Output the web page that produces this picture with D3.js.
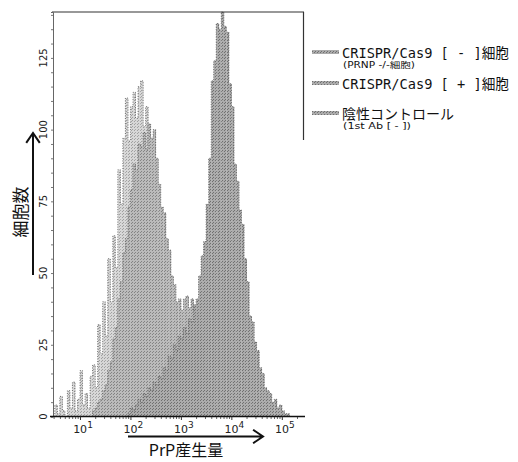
<!DOCTYPE html>
<html>
<head>
<meta charset="utf-8">
<script src="https://cdn.jsdelivr.net/npm/d3@7"></script>
<style>
  html, body { margin: 0; padding: 0; background: #fff; }
  svg { display: block; }
</style>
</head>
<body>
<svg id="chart" width="518" height="462"></svg>
<script>
// Histogram bins in log10(PrP) units: bin k covers binStart + k*binStep .. +binStep
const binStart = 0.5;
const binStep = 0.05;

// negative control (1st Ab [-]) - first bin index + counts
const negFirstBin = 0;
const negCounts = [4, 1, 7, 2, 0, 9, 3, 12, 2, 6, 16, 4, 8, 3, 14,
  18, 10, 32, 22, 40, 28, 55, 40, 63, 52, 86, 74, 97, 111, 96, 108, 113, 104, 115, 117,
  101, 108, 90, 86, 70, 60, 47, 40, 29, 24, 17, 13, 10, 7, 5, 4, 3, 2, 2, 1, 1];

// CRISPR/Cas9 [-] (PRNP -/-)
const minusFirstBin = 15;
const minusCounts = [2, 3, 5, 6, 9, 11, 16, 19, 27, 31, 41, 47, 57, 62, 73, 79, 88, 86, 95, 94,
  99, 93, 102, 97, 100, 90, 81, 73, 71, 62, 58, 49, 46, 40, 41, 37, 41, 42, 38, 41,
  37, 36, 29, 25, 17, 13, 8, 5, 3, 2, 1];

// CRISPR/Cas9 [+]
const plusFirstBin = 29;
const plusCounts = [1, 3, 2, 4, 6, 5, 8, 7, 10, 9, 12, 11, 14, 13, 17, 16, 21, 20, 25, 23,
  28, 27, 31, 29, 34, 33, 39, 41, 49, 56, 61, 74, 90, 117, 124, 137, 135, 141, 136, 134,
  116, 108, 88, 82, 72, 67, 55, 47, 35, 33, 26, 23, 17, 15, 10, 9, 8, 5, 6, 3, 4, 2, 1, 1];

const yTicks = [0, 25, 50, 75, 100, 125];
const xDecades = [1, 2, 3, 4, 5];
const legendMain = ['CRISPR/Cas9 [ - ]細胞', 'CRISPR/Cas9 [ + ]細胞', '陰性コントロール'];
const legendSub = ['(PRNP -/-細胞)', '', '(1st Ab [ - ])'];

const svg = d3.select('#chart');
const defs = svg.append('defs');

const x = d3.scaleLog().domain([Math.pow(10, 0.465), Math.pow(10, 5.42)]).range([53, 303]);
const y = d3.scaleLinear().domain([0, 141]).range([416.5, 12]);

// speckled fills, like the halftone in the scan
function addPattern(id, base, dot) {
  const p = defs.append('pattern').attr('id', id)
    .attr('patternUnits', 'userSpaceOnUse').attr('width', 3).attr('height', 3);
  p.append('rect').attr('width', 3).attr('height', 3).attr('fill', base);
  p.append('rect').attr('x', 0).attr('y', 0).attr('width', 1).attr('height', 1).attr('fill', dot);
  p.append('rect').attr('x', 2).attr('y', 1).attr('width', 1).attr('height', 1).attr('fill', dot);
}
addPattern('pNeg', '#d6d6d6', '#a0a0a0');
addPattern('pMinus', '#bababa', '#838383');
addPattern('pPlus', '#ababab', '#707070');

const series = [
  { first: negFirstBin, counts: negCounts, fill: 'url(#pNeg)' },
  { first: minusFirstBin, counts: minusCounts, fill: 'url(#pMinus)' },
  { first: plusFirstBin, counts: plusCounts, fill: 'url(#pPlus)' }
];

const edge = k => Math.pow(10, binStart + k * binStep);

series.forEach(s => {
  const bins = s.counts.map((c, i) => ({ k: s.first + i, c }));
  const g = svg.append('g');
  g.selectAll('rect').data(bins).join('rect')
    .attr('x', d => x(edge(d.k)))
    .attr('width', d => x(edge(d.k + 1)) - x(edge(d.k)) + 0.3)
    .attr('y', d => y(d.c))
    .attr('height', d => y(0) - y(d.c))
    .attr('fill', s.fill);
  // dotted outline along the tops
  const pts = bins.map(d => [x(edge(d.k)), y(d.c)]);
  const last = bins[bins.length - 1];
  pts.unshift([x(edge(bins[0].k)), y(0)]);
  pts.push([x(edge(last.k + 1)), y(last.c)], [x(edge(last.k + 1)), y(0)]);
  g.append('path')
    .attr('d', d3.line().curve(d3.curveStepAfter)(pts))
    .attr('fill', 'none').attr('stroke', '#555').attr('stroke-width', 0.8)
    .attr('stroke-dasharray', '1 1.5');
});

// frame: top and partial right side
svg.append('line').attr('x1', 52).attr('x2', 304).attr('y1', 12).attr('y2', 12)
  .attr('stroke', '#333').attr('stroke-width', 1.2);
svg.append('line').attr('x1', 303.5).attr('x2', 303.5).attr('y1', 12).attr('y2', 140)
  .attr('stroke', '#333').attr('stroke-width', 1.2);

// y axis
const yMinor = d3.range(0, 141, 5);
const yAxis = svg.append('g').attr('transform', 'translate(53,0)')
  .call(d3.axisLeft(y).tickValues(yMinor).tickSize(2).tickFormat(''));
yAxis.select('.domain').attr('stroke', '#666');
yAxis.selectAll('.tick line').attr('stroke', '#777');
svg.append('g').selectAll('text').data(yTicks).join('text')
  .attr('transform', d => `translate(47,${y(d)}) rotate(-90)`)
  .attr('text-anchor', 'middle')
  .attr('font-family', 'DejaVu Sans, sans-serif').attr('font-size', 10)
  .attr('fill', '#222')
  .text(d => d);

// x axis
const xMinor = [];
xDecades.concat([0]).forEach(e => { for (let m = 2; m <= 9; m++) xMinor.push(m * Math.pow(10, e)); });
const xAxisMinor = svg.append('g').attr('transform', 'translate(0,416.5)')
  .call(d3.axisBottom(x).tickValues(xMinor.filter(v => v > x.domain()[0] && v < x.domain()[1]))
    .tickSize(2.5).tickFormat(''));
xAxisMinor.select('.domain').remove();
xAxisMinor.selectAll('.tick line').attr('stroke', '#666');
const xAxis = svg.append('g').attr('transform', 'translate(0,416.5)')
  .call(d3.axisBottom(x).tickValues(xDecades.map(e => Math.pow(10, e))).tickSize(3.5).tickFormat(''));
xAxis.select('.domain').attr('stroke', '#111').attr('stroke-width', 1.6).attr('d', 'M50,0H305');
xAxis.selectAll('.tick line').attr('stroke', '#333');

const xl = svg.append('g').selectAll('text').data(xDecades).join('text')
  .attr('x', d => x(Math.pow(10, d)) + 3)
  .attr('y', 433)
  .attr('text-anchor', 'middle')
  .attr('font-family', 'DejaVu Sans, sans-serif').attr('font-size', 11)
  .attr('fill', '#222');
xl.append('tspan').text('10');
xl.append('tspan').attr('dy', -5).attr('font-size', 9).text(d => d);

// arrows for axis titles
function arrow(x1, y1, x2, y2) {
  const a = Math.atan2(y2 - y1, x2 - x1);
  const L = 12, spread = 0.6;
  const p1 = [x2 - L * Math.cos(a - spread), y2 - L * Math.sin(a - spread)];
  const p2 = [x2 - L * Math.cos(a + spread), y2 - L * Math.sin(a + spread)];
  svg.append('path')
    .attr('d', `M${x1},${y1}L${x2},${y2}M${p1[0]},${p1[1]}L${x2},${y2}L${p2[0]},${p2[1]}`)
    .attr('fill', 'none').attr('stroke', '#111').attr('stroke-width', 2);
}
arrow(128, 436.5, 263, 436.5);
arrow(33, 275, 33, 133);

svg.append('text')
  .attr('x', 186).attr('y', 456)
  .attr('text-anchor', 'middle')
  .attr('font-family', 'Noto Sans CJK JP, sans-serif').attr('font-size', 16)
  .attr('fill', '#111')
  .text('PrP産生量');

svg.append('text')
  .attr('transform', 'translate(27,212) rotate(-90)')
  .attr('text-anchor', 'middle')
  .attr('font-family', 'Noto Sans CJK JP, sans-serif').attr('font-size', 17)
  .attr('fill', '#111')
  .text('細胞数');

// legend
const legendY = [58, 89, 119];
const legendW = [167, 167, 112];
const legendSubW = [72, 0, 68];
const lg = svg.append('g');
legendMain.forEach((t, i) => {
  lg.append('rect').attr('x', 312).attr('y', legendY[i] - 8).attr('width', 27).attr('height', 4)
    .attr('fill', 'url(#pPlus)');
  lg.append('text').attr('x', 342).attr('y', legendY[i])
    .attr('font-family', 'DejaVu Sans Mono, Noto Sans CJK JP, monospace').attr('font-size', 14)
    .attr('textLength', legendW[i]).attr('lengthAdjust', 'spacingAndGlyphs')
    .attr('fill', '#111').text(t);
  if (legendSub[i]) {
    lg.append('text').attr('x', 343).attr('y', legendY[i] + 10)
      .attr('font-family', 'DejaVu Sans, Noto Sans CJK JP, sans-serif').attr('font-size', 8)
      .attr('textLength', legendSubW[i]).attr('lengthAdjust', 'spacingAndGlyphs')
      .attr('fill', '#111').text(legendSub[i]);
  }
});
</script>
</body>
</html>
